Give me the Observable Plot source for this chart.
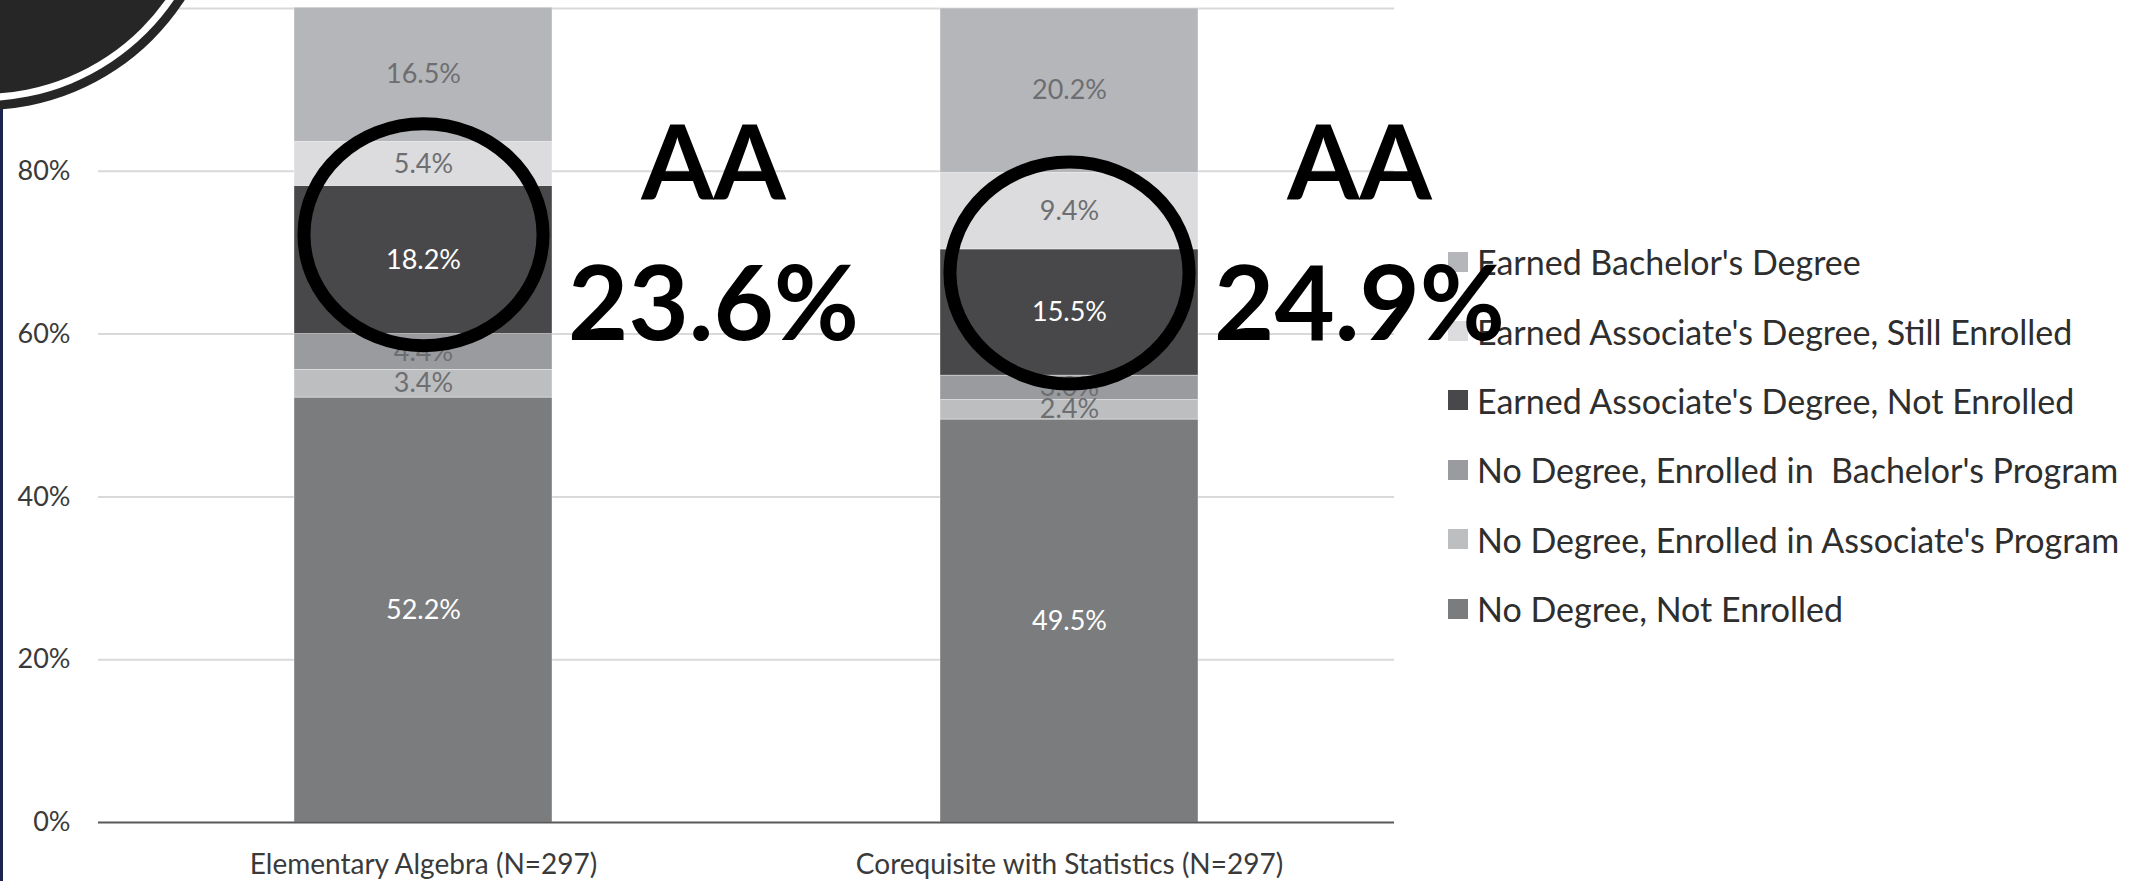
<!DOCTYPE html>
<html>
<head>
<meta charset="utf-8">
<script src="https://cdn.jsdelivr.net/npm/d3@7"></script>
<script src="https://cdn.jsdelivr.net/npm/@observablehq/plot@0.6"></script>
<style>
  html, body { margin: 0; padding: 0; background: #ffffff; }
  #wrap { position: relative; width: 2133px; height: 881px; overflow: hidden; font-family: Lato, sans-serif; }
  #legend { position: absolute; left: 1448px; top: 227px; z-index: 1; }
  .item { display: flex; align-items: center; height: 69.4px; font-size: 34px; color: #2e2e2e; white-space: pre; }
  .sw { width: 20px; height: 20px; margin-right: 9px; flex: none; }
  #chart { position: absolute; left: 0; top: 0; z-index: 2; }
  #edge { position: absolute; left: 0; top: 0; width: 3px; height: 881px; background: #1e2452; z-index: 3; }
  #corner { position: absolute; z-index: 4; left: -241px; top: -354px; width: 448px; height: 448px;
            border-radius: 50%; background: #262626; box-shadow: 0 0 0 7px #ffffff, 0 0 0 16px #262626; }
</style>
</head>
<body>
<div id="wrap">
  <div id="legend"></div>
  <div id="chart"></div>
  <div id="edge"></div>
  <div id="corner"></div>
</div>
<script>
// ---- data ----
const categories = ["Elementary Algebra (N=297)", "Corequisite with Statistics (N=297)"];
const seriesNames = [
  "No Degree, Not Enrolled",
  "No Degree, Enrolled in Associate's Program",
  "No Degree, Enrolled in  Bachelor's Program",
  "Earned Associate's Degree, Not Enrolled",
  "Earned Associate's Degree, Still Enrolled",
  "Earned Bachelor's Degree"
];
const elementaryAlgebra = [52.2, 3.4, 4.4, 18.2, 5.4, 16.5];
const corequisiteStats  = [49.5, 2.4, 3.0, 15.5, 9.4, 20.2];
const seriesColors = ["#7b7c7e", "#bdbec0", "#9a9b9e", "#48484b", "#dcdcde", "#b5b6b9"];
const whiteLabelSeries = ["No Degree, Not Enrolled", "Earned Associate's Degree, Not Enrolled"];
const yTicks = [0, 20, 40, 60, 80];
const gridTicks = [20, 40, 60, 80, 100];
const annotationTitle = "AA";
// annotation anchors in data units (%)
const circleCenterY = [72.2, 67.5];
const titleBaselineY = [76.6, 76.6];
const totalBaselineY = [59.3, 59.3];

// ---- build table ----
const seriesValues = [elementaryAlgebra, corequisiteStats];
const rows = [];
seriesNames.forEach((s, i) => {
  categories.forEach((c, j) => rows.push({category: c, series: s, value: seriesValues[j][i]}));
});
const annot = categories.map((c, j) => ({
  category: c,
  total: seriesValues[j][3] + seriesValues[j][4],
  cy: circleCenterY[j],
  ty: titleBaselineY[j],
  py: totalBaselineY[j]
}));

const fmt = d => d.value.toFixed(1) + "%";

// slightly wide ellipse symbol for the hand-drawn highlight rings
const ellipseSymbol = {
  draw(ctx, size) {
    const r = Math.sqrt(size / Math.PI);
    const rx = r * 1.077, ry = r, k = 0.5523;
    ctx.moveTo(rx, 0);
    ctx.bezierCurveTo(rx, k * ry, k * rx, ry, 0, ry);
    ctx.bezierCurveTo(-k * rx, ry, -rx, k * ry, -rx, 0);
    ctx.bezierCurveTo(-rx, -k * ry, -k * rx, -ry, 0, -ry);
    ctx.bezierCurveTo(k * rx, -ry, rx, -k * ry, rx, 0);
    ctx.closePath();
  }
};

const chart = Plot.plot({
  width: 2133,
  height: 881,
  marginLeft: 98,
  marginRight: 739,
  marginTop: 8,
  marginBottom: 59,
  style: {background: "transparent", color: "#3a3a3a", fontFamily: "Lato, sans-serif", fontSize: "27px", overflow: "visible"},
  x: {domain: categories, paddingInner: 0.6, paddingOuter: 0.303, label: null, tickSize: 0, tickPadding: 32},
  y: {domain: [0, 100], ticks: yTicks, tickFormat: d => d + "%", tickSize: 0, tickPadding: 28, label: null},
  color: {domain: seriesNames, range: seriesColors},
  marks: [
    Plot.ruleY(gridTicks, {stroke: "#d9d9d9", strokeWidth: 2}),
    Plot.barY(rows, {x: "category", y: "value", z: "series", fill: "series", stroke: "#ffffff", strokeWidth: 0.75, strokeOpacity: 0.5}),
    Plot.ruleY([0], {stroke: "#595959", strokeWidth: 2}),
    Plot.text(rows, Plot.filter(d => !whiteLabelSeries.includes(d.series),
      Plot.stackY({x: "category", y: "value", z: "series", text: fmt, fill: "#6d6e71", fontSize: 27}))),
    Plot.text(rows, Plot.filter(d => whiteLabelSeries.includes(d.series),
      Plot.stackY({x: "category", y: "value", z: "series", text: fmt, fill: "#ffffff", fontSize: 27}))),
    Plot.dot(annot, {x: "category", y: "cy", r: 111, symbol: ellipseSymbol, stroke: "#000000", strokeWidth: 13, fill: "none"}),
    Plot.text(annot, {x: "category", y: "ty", text: () => annotationTitle, dx: 290, lineAnchor: "bottom",
      fontSize: 104, fontWeight: "bold", fill: "#000000"}),
    Plot.text(annot, {x: "category", y: "py", text: d => d.total.toFixed(1) + "%", dx: 290, lineAnchor: "bottom",
      fontSize: 104, fontWeight: "bold", fill: "#000000"})
  ]
});
d3.select(chart).selectAll('g[aria-label^="x-axis"]').style("font-size", "28px");
document.getElementById("chart").appendChild(chart);

// ---- legend (top of stack first) ----
const legend = document.getElementById("legend");
seriesNames.map((s, i) => ({s, c: seriesColors[i]})).reverse().forEach(({s, c}) => {
  const item = document.createElement("div");
  item.className = "item";
  const sw = document.createElement("span");
  sw.className = "sw";
  sw.style.background = c;
  const tx = document.createElement("span");
  tx.textContent = s;
  item.appendChild(sw);
  item.appendChild(tx);
  legend.appendChild(item);
});
</script>
</body>
</html>
